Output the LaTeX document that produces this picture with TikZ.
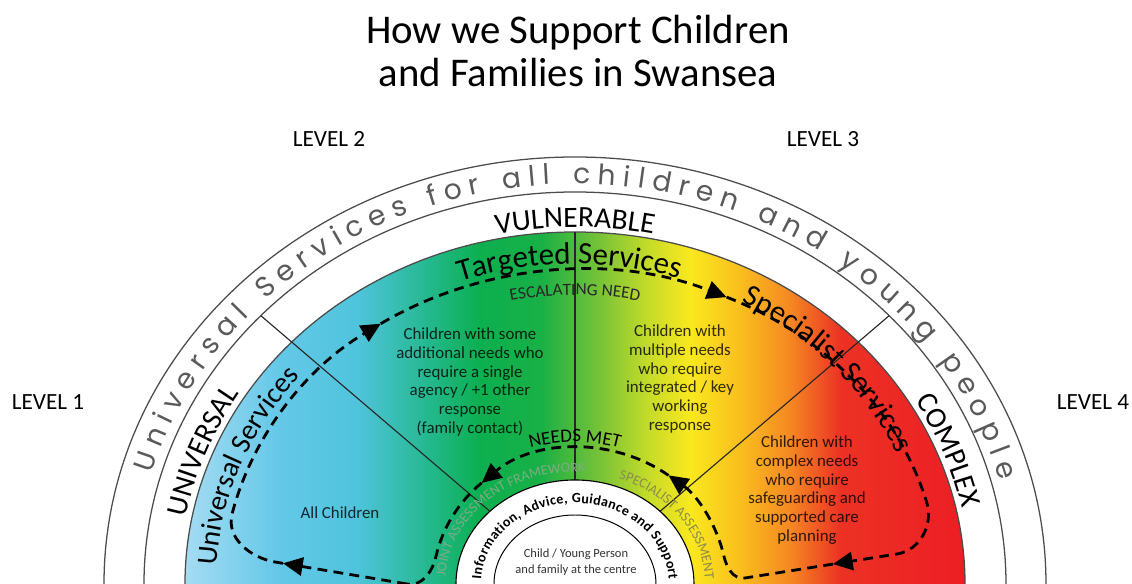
\documentclass[tikz,border=0pt]{standalone}
\usepackage{fontspec}
\setmainfont{Carlito}
\newfontfamily\ringfont{Poppins}
\usetikzlibrary{arrows.meta}
\usetikzlibrary{decorations.text}

\definecolor{ringgrey}{RGB}{90,90,90}
\definecolor{jafgreen}{RGB}{125,172,132}
\definecolor{saolive}{RGB}{140,140,75}
\definecolor{shadeA}{RGB}{165,220,242}
\definecolor{shadeB}{RGB}{100,200,232}
\definecolor{shadeC}{RGB}{80,196,220}
\definecolor{shadeD}{RGB}{35,184,140}
\definecolor{shadeE}{RGB}{12,175,80}
\definecolor{shadeF}{RGB}{25,176,70}
\definecolor{shadeG}{RGB}{120,195,55}
\definecolor{shadeH}{RGB}{200,220,40}
\definecolor{shadeI}{RGB}{250,232,30}
\definecolor{shadeJ}{RGB}{250,190,30}
\definecolor{shadeK}{RGB}{245,135,35}
\definecolor{shadeL}{RGB}{236,50,36}
\definecolor{shadeM}{RGB}{236,30,36}

% blue -> green -> yellow -> red across the four levels
\pgfdeclarehorizontalshading{needshade}{100bp}{%
  color(0bp)=(shadeA); color(25bp)=(shadeA); color(31bp)=(shadeB);
  color(36bp)=(shadeC); color(40.7bp)=(shadeD); color(43.9bp)=(shadeE);
  color(47.8bp)=(shadeF); color(51.6bp)=(shadeG); color(54.8bp)=(shadeH);
  color(57.4bp)=(shadeI); color(60.6bp)=(shadeJ); color(63.8bp)=(shadeK);
  color(67bp)=(shadeL); color(75bp)=(shadeM); color(100bp)=(shadeM)}

\tikzset{
  ring/.style={draw=black!70, line width=0.9pt},
  divider/.style={draw=black!85, line width=0.8pt},
  needpath/.style={line width=2pt, dash pattern=on 7pt off 4.5pt},
  needarrow/.style={needpath, -{Triangle[length=14pt, width=13pt]}},
  level/.style={font=\fontsize{16.5}{18}\selectfont, anchor=base},
  needtext/.style={font=\fontsize{12}{13.3}\selectfont, align=center, text opacity=0.8}
}

\begin{document}
\begin{tikzpicture}[x=0.025cm, y=0.025cm]
    \useasboundingbox (-575,0) rectangle (557,584);
    \clip (-575,0) rectangle (557,584);

    % heading and level labels
    \node[font=\fontsize{29}{31}\selectfont, anchor=base] (title1) at (3,540) {How we Support Children};
    \node[font=\fontsize{29}{31}\selectfont, anchor=base] (title2) at (3,497) {and Families in Swansea};
    \node[level] (level2) at (-246,437) {LEVEL 2};
    \node[level] (level3) at (248,437) {LEVEL 3};
    \node[level] (level1) at (-527,174) {LEVEL 1};
    \node[level] (level4) at (518,174) {LEVEL 4};

    % rings
    \draw[ring] (0,0) ellipse [x radius=471, y radius=427];
    \draw[ring] (0,0) ellipse [x radius=431, y radius=392];
    \shadedraw[shading=needshade, ring] (0,0) ellipse [x radius=390, y radius=352];

    % dividers between the levels
    \coordinate (ringL) at (139.5:413);
    \coordinate (hubL) at (139.5:112);
    \coordinate (ringR) at (40.5:413);
    \coordinate (hubR) at (40.5:112);
    \coordinate (bandT) at (90:352);
    \coordinate (hubT) at (90:104);
    \draw[divider] (ringL) -- (hubL);
    \draw[divider] (ringR) -- (hubR);
    \draw[divider] (bandT) -- (hubT);

    % centre
    \draw[fill=white, line width=0.8pt] (0,0) ellipse [x radius=119, y radius=104];
    \draw[line width=0.7pt] (0,0) ellipse [x radius=81, y radius=69];
    \node[font=\fontsize{8.9}{11.4}\selectfont, align=center, text=black!80] (child) at (1,22) {Child / Young Person\\and family at the centre};

    % curved labels
    \path[decorate, decoration={text along path, text align=fit to path,
        text={|\ringfont\fontsize{20}{21}\selectfont\color{ringgrey}|Universal Services for all children and young people}}]
        (164:440 and 400) arc[start angle=164, end angle=15, x radius=440, y radius=400];
    \path[decorate, decoration={text along path, text align=center,
        text={|\fontsize{21}{22}\selectfont|VULNERABLE}}]
        (120:394 and 357) arc[start angle=120, end angle=60, x radius=394, y radius=357];
    \path[decorate, decoration={text along path, text align=center,
        text={|\fontsize{21}{22}\selectfont|UNIVERSAL}}]
        (189:396 and 358) arc[start angle=189, end angle=129, x radius=396, y radius=358];
    \path[decorate, decoration={text along path, text align=center,
        text={|\fontsize{21}{22}\selectfont|COMPLEX}}]
        (51:396 and 358) arc[start angle=51, end angle=-9, x radius=396, y radius=358];
    \path[decorate, decoration={text along path, text align=center,
        text={|\fontsize{22}{24}\selectfont|Targeted Services}}]
        (131:350 and 320) arc[start angle=131, end angle=51, x radius=350, y radius=320];
    \path[decorate, decoration={text along path, text align=center,
        text={|\fontsize{21.5}{24}\selectfont|Specialist Services}}]
        (82:352 and 320) arc[start angle=82, end angle=2, x radius=352, y radius=320];
    \path[decorate, decoration={text along path, text align=center,
        text={|\fontsize{20.5}{24}\selectfont|Universal Services}}]
        (199:359 and 322) arc[start angle=199, end angle=119, x radius=359, y radius=322];
    \path[decorate, decoration={text along path, text align=center,
        text={|\fontsize{12.2}{13}\selectfont\color{black!85}|ESCALATING NEED}}]
        (120:318 and 289) arc[start angle=120, end angle=60, x radius=318, y radius=289];
    \path[decorate, decoration={text along path, text align=center,
        text={|\fontsize{13.5}{14}\selectfont|NEEDS MET}}]
        (135:155 and 142) arc[start angle=135, end angle=45, x radius=155, y radius=142];
    \path[decorate, decoration={text along path, text align=center,
        text={|\fontsize{10}{11}\selectfont\color{jafgreen}|JOINT ASSESSMENT FRAMEWORK}}]
        (179:130 and 112) arc[start angle=179, end angle=83, x radius=130, y radius=112];
    \path[decorate, decoration={text along path, text align=center,
        text={|\fontsize{10}{11}\selectfont\color{saolive}|SPECIALIST ASSESSMENT}}]
        (75:130 and 112) arc[start angle=75, end angle=-3, x radius=130, y radius=112];
    \path[decorate, decoration={text along path, text align=fit to path,
        text={|\fontsize{10}{11}\selectfont\bfseries|Information, Advice, Guidance and Support}}]
        (177:94 and 81) arc[start angle=177, end angle=3, x radius=94, y radius=81];

    % what each level covers
    \node[needtext] (needs1) at (-235,71) {All Children};
    \node[needtext] (needs2) at (-105,202) {Children with some\\additional needs who\\require a single\\agency / +1 other\\response\\(family contact)};
    \node[needtext] (needs3) at (105,205) {Children with\\multiple needs\\who require\\integrated / key\\working\\response};
    \node[needtext] (needs4) at (232,94) {Children with\\complex needs\\who require\\safeguarding and\\supported care\\planning};

    % escalating need / needs met loop
    \draw[needarrow] (-168,0) -- (-292,20.7);
    \draw[needarrow] (-292,20.7) -- (-300,22) to[out=170, in=-105] (-342.8,70.6)
        arc[start angle=167, end angle=124, x radius=358, y radius=314];
    \draw[needarrow] (-194.2,260.3) arc[start angle=124, end angle=66, x radius=358, y radius=314];
    \draw[needarrow] (151.6,286.9) arc[start angle=66, end angle=15, x radius=358, y radius=314]
        to[out=-73, in=9] (322,30) -- (258,19.9);
    \draw[needarrow] (258,19.9) -- (170,6) to[out=189, in=-77] (148.8,28.3)
        arc[start angle=12, end angle=53, x radius=147, y radius=136];
    \draw[needarrow] (93.5,108.6) arc[start angle=53, end angle=132, x radius=147, y radius=136];
    \draw[needpath] (-93.4,101.1) arc[start angle=132, end angle=168, x radius=147, y radius=136]
        to[out=-103, in=-9.5] (-168,0);
\end{tikzpicture}
\end{document}
